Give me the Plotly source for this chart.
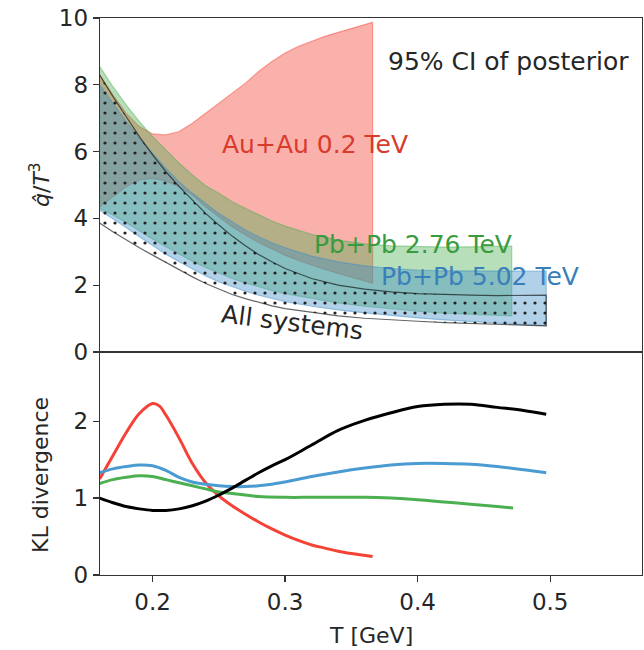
import plotly.graph_objects as go

# ---------------- data ----------------
# Au+Au 0.2 TeV 95% band
T_au = [0.160, 0.17, 0.18, 0.19, 0.20, 0.21, 0.22, 0.23, 0.24, 0.25, 0.26, 0.27,
        0.28, 0.29, 0.30, 0.31, 0.32, 0.33, 0.34, 0.35, 0.366]
au_hi = [8.3, 7.7, 7.15, 6.75, 6.53, 6.5, 6.6, 6.85, 7.15, 7.45, 7.75, 8.05,
         8.4, 8.7, 8.95, 9.15, 9.3, 9.45, 9.57, 9.68, 9.87]
au_lo = [4.35, 4.65, 4.95, 5.15, 5.2, 5.12, 4.95, 4.7, 4.35, 4.05, 3.75, 3.5,
         3.28, 3.08, 2.9, 2.74, 2.6, 2.47, 2.35, 2.23, 2.06]

# Pb+Pb 2.76 TeV 95% band
T_276 = [0.160, 0.17, 0.18, 0.19, 0.20, 0.21, 0.22, 0.23, 0.24, 0.25, 0.26, 0.27,
         0.28, 0.29, 0.30, 0.32, 0.34, 0.36, 0.38, 0.40, 0.42, 0.44, 0.471]
p276_hi = [8.55, 7.95, 7.4, 6.9, 6.45, 6.05, 5.65, 5.3, 4.98, 4.75, 4.5, 4.3,
           4.1, 3.92, 3.77, 3.52, 3.35, 3.24, 3.18, 3.15, 3.14, 3.15, 3.17]
p276_lo = [4.3, 4.1, 3.88, 3.63, 3.38, 3.15, 2.93, 2.72, 2.53, 2.36, 2.2, 2.07,
           1.95, 1.84, 1.75, 1.6, 1.47, 1.37, 1.29, 1.22, 1.16, 1.12, 1.08]

# Pb+Pb 5.02 TeV and "All systems" bands (common temperature grid)
T_502 = [0.160, 0.17, 0.18, 0.19, 0.20, 0.21, 0.22, 0.23, 0.24, 0.25, 0.26, 0.27,
         0.28, 0.29, 0.30, 0.32, 0.34, 0.36, 0.38, 0.40, 0.42, 0.44, 0.46, 0.48, 0.497]
p502_hi = [8.0, 7.45, 6.9, 6.4, 5.95, 5.5, 5.1, 4.75, 4.45, 4.15, 3.9, 3.65,
           3.45, 3.27, 3.12, 2.87, 2.7, 2.58, 2.5, 2.45, 2.43, 2.42, 2.42, 2.42, 2.42]
p502_lo = [4.25, 4.0, 3.73, 3.45, 3.18, 2.93, 2.7, 2.48, 2.28, 2.1, 1.95, 1.82,
           1.7, 1.6, 1.51, 1.37, 1.26, 1.17, 1.09, 1.02, 0.96, 0.91, 0.86, 0.82, 0.79]
all_hi = [8.3, 7.65, 7.05, 6.45, 5.9, 5.4, 4.95, 4.55, 4.15, 3.8, 3.47, 3.18,
          2.92, 2.7, 2.5, 2.2, 2.0, 1.88, 1.8, 1.75, 1.72, 1.7, 1.69, 1.69, 1.7]
all_lo = [3.86, 3.6, 3.35, 3.12, 2.9, 2.68, 2.46, 2.25, 2.05, 1.88, 1.72, 1.6,
          1.48, 1.38, 1.3, 1.18, 1.08, 1.01, 0.96, 0.92, 0.88, 0.85, 0.82, 0.8, 0.78]

# KL divergence curves
T_kl_au = [0.160, 0.17, 0.18, 0.19, 0.20, 0.205, 0.21, 0.22, 0.23, 0.24, 0.25, 0.26,
           0.27, 0.28, 0.29, 0.30, 0.31, 0.32, 0.33, 0.34, 0.35, 0.366]
kl_au = [1.25, 1.55, 1.85, 2.1, 2.23, 2.2, 2.08, 1.78, 1.45, 1.2, 1.03, 0.9,
         0.79, 0.69, 0.6, 0.52, 0.45, 0.39, 0.35, 0.31, 0.28, 0.24]
T_kl_276 = [0.160, 0.17, 0.18, 0.19, 0.20, 0.21, 0.22, 0.23, 0.24, 0.25, 0.26, 0.27,
            0.28, 0.30, 0.32, 0.34, 0.36, 0.38, 0.40, 0.42, 0.44, 0.46, 0.472]
kl_276 = [1.19, 1.24, 1.27, 1.29, 1.28, 1.24, 1.2, 1.16, 1.12, 1.08, 1.06, 1.04,
          1.02, 1.01, 1.01, 1.01, 1.01, 1.0, 0.98, 0.95, 0.92, 0.89, 0.87]
T_kl = [0.160, 0.17, 0.18, 0.19, 0.20, 0.21, 0.22, 0.23, 0.24, 0.25, 0.26, 0.27,
        0.28, 0.29, 0.30, 0.32, 0.34, 0.36, 0.38, 0.40, 0.42, 0.44, 0.46, 0.48, 0.497]
kl_502 = [1.33, 1.38, 1.41, 1.43, 1.42, 1.36, 1.27, 1.21, 1.18, 1.16, 1.15, 1.15,
          1.16, 1.18, 1.21, 1.28, 1.34, 1.39, 1.43, 1.45, 1.45, 1.44, 1.41, 1.37, 1.33]
kl_all = [1.0, 0.94, 0.89, 0.86, 0.84, 0.84, 0.86, 0.9, 0.96, 1.04, 1.13, 1.23,
          1.33, 1.42, 1.5, 1.69, 1.88, 2.01, 2.11, 2.19, 2.22, 2.22, 2.18, 2.14, 2.09]

top_yticks = [0, 2, 4, 6, 8, 10]
bot_yticks = [0, 1, 2]
x_ticks = [0.2, 0.3, 0.4, 0.5]
x_ticklabels = ["0.2", "0.3", "0.4", "0.5"]

# ---------------- styling ----------------
FONT = "DejaVu Sans"
RED, GREEN, BLUE = "#f44336", "#4caf50", "#4a9bd1"
TXT = "#262626"
AX = "#333333"

fig = go.Figure()


def band(x, lo, hi, fill, edge, name, pattern=None):
    xs = list(x) + list(x)[::-1]
    ys = list(hi) + list(lo)[::-1]
    kw = dict(x=xs, y=ys, mode="lines", fill="toself", fillcolor=fill,
              line=dict(color=edge, width=1.2), name=name, showlegend=False,
              hoverinfo="skip", xaxis="x", yaxis="y")
    if pattern:
        kw["fillpattern"] = pattern
    fig.add_trace(go.Scatter(**kw))


band(T_au, au_lo, au_hi, "rgba(244,67,54,0.42)", "rgba(244,67,54,0.45)", "Au+Au 0.2 TeV")
band(T_276, p276_lo, p276_hi, "rgba(76,175,80,0.40)", "rgba(76,175,80,0.45)", "Pb+Pb 2.76 TeV")
band(T_502, p502_lo, p502_hi, "rgba(60,140,200,0.40)", "rgba(60,140,200,0.45)", "Pb+Pb 5.02 TeV")
band(T_502, all_lo, all_hi, "rgba(0,0,0,0)", "rgba(0,0,0,0.6)", "All systems",
     pattern=dict(shape=".", fgcolor="#222222", bgcolor="rgba(0,0,0,0)",
                  size=10, solidity=0.08, fillmode="replace"))

for x, y, c in [(T_kl_au, kl_au, RED), (T_kl_276, kl_276, GREEN),
                (T_kl, kl_502, BLUE), (T_kl, kl_all, "#000000")]:
    fig.add_trace(go.Scatter(x=x, y=y, mode="lines", line=dict(color=c, width=3, shape="spline"),
                             showlegend=False, hoverinfo="skip", xaxis="x2", yaxis="y2"))

split = 223 / 557

axis_common = dict(showline=True, linecolor=AX, linewidth=1.3, mirror=True, showgrid=False,
                   zeroline=False, ticks="outside", ticklen=6, tickwidth=1.3, tickcolor=AX,
                   ticklabeloverflow="allow",
                   tickfont=dict(family=FONT, size=23, color=TXT))

fig.update_layout(
    width=644, height=650,
    margin=dict(l=100, r=2, t=18, b=75),
    paper_bgcolor="white", plot_bgcolor="white",
    font=dict(family=FONT, size=23, color=TXT),
    xaxis=dict(axis_common, domain=[0, 1], range=[0.1603, 0.5693], anchor="y",
               showticklabels=False, ticks="", matches="x2"),
    yaxis=dict(axis_common, domain=[split, 1], range=[0, 10], anchor="x",
               tickvals=top_yticks),
    xaxis2=dict(axis_common, domain=[0, 1], range=[0.1603, 0.5693], anchor="y2",
                tickvals=x_ticks, ticktext=x_ticklabels),
    yaxis2=dict(axis_common, domain=[0, split], range=[0, 2.9], anchor="x2",
                tickvals=bot_yticks),
)

# axis titles (placed as paper annotations)
PW, PH = 542, 557
titles = [
    dict(text="<i>q̂</i>/<i>T</i><sup>3</sup>", x=(40 - 100) / PW, y=1 - (185 - 18) / PH, angle=-90),
    dict(text="KL divergence", x=(40 - 100) / PW, y=1 - (475 - 18) / PH, angle=-90),
    dict(text="T [GeV]", x=0.5, y=-(635 - 575) / PH, angle=0),
]
for t in titles:
    fig.add_annotation(x=t["x"], y=t["y"], xref="paper", yref="paper", text=t["text"],
                       showarrow=False, textangle=t["angle"], xanchor="center", yanchor="middle",
                       font=dict(family=FONT, size=22, color=TXT))

annots = [
    dict(text="95% CI of posterior", x=0.4689, y=8.71, color=TXT, angle=0),
    dict(text="Au+Au 0.2 TeV", x=0.3223, y=6.2, color="#d83b2b", angle=0),
    dict(text="Pb+Pb 2.76 TeV", x=0.3962, y=3.23, color="#3a9a40", angle=0),
    dict(text="Pb+Pb 5.02 TeV", x=0.4467, y=2.25, color="#3a7fb8", angle=0),
    dict(text="All systems", x=0.3052, y=0.87, color=TXT, angle=7),
]
for a in annots:
    fig.add_annotation(x=a["x"], y=a["y"], xref="x", yref="y", text=a["text"],
                       showarrow=False, textangle=a["angle"],
                       font=dict(family=FONT, size=25, color=a["color"]))

# remove the default 8px page margin so the figure fills the window exactly
fig.write_html("out.html",
               config={"displayModeBar": False, "staticPlot": True},
               post_script="document.body.style.margin='0';document.body.style.overflow='hidden';")
